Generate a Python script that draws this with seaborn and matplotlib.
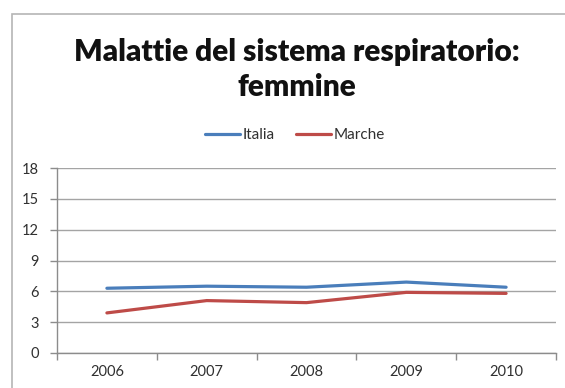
import matplotlib
matplotlib.use("Agg")
import matplotlib.pyplot as plt
from matplotlib.patches import Rectangle
from matplotlib.lines import Line2D
import seaborn as sns
import pandas as pd

# Tasso di mortalità per malattie del sistema respiratorio, femmine
anni = ["2006", "2007", "2008", "2009", "2010"]
italia = [6.3, 6.5, 6.4, 6.9, 6.4]
marche = [3.9, 5.1, 4.9, 5.9, 5.8]
serie = ["Italia", "Marche"]
colori = ["#4A7EBB", "#BE4B48"]
y_ticks = [0, 3, 6, 9, 12, 15, 18]

df = pd.DataFrame({
    "anno": anni * 2,
    "valore": italia + marche,
    "serie": [serie[0]] * len(anni) + [serie[1]] * len(anni),
})

sns.set_theme(style="white")
plt.rcParams["font.family"] = ["Lato", "DejaVu Sans"]

fig = plt.figure(figsize=(5.65, 3.88), dpi=100)
fig.patch.set_facecolor("white")

# chart frame
fig.patches.append(Rectangle((12 / 565, -0.05), 1.0, 1 - 14 / 388 + 0.05,
                             transform=fig.transFigure, fill=False,
                             edgecolor="#B5B5B5", linewidth=1.2))

ax = fig.add_axes([57 / 565, 1 - 353 / 388, (556 - 57) / 565, (353 - 168) / 388])
sns.lineplot(data=df, x="anno", y="valore", hue="serie", palette=colori,
             linewidth=2.3, ax=ax, legend=False, sort=False)

ax.set_ylim(0, 18)
ax.set_yticks(y_ticks)
ax.set_yticklabels([str(t) for t in y_ticks])
ax.set_xlim(-0.5, len(anni) - 0.5)
ax.set_xticks([i - 0.5 for i in range(len(anni) + 1)])
ax.set_xticklabels([""] * (len(anni) + 1))
ax.set_xticks(range(len(anni)), minor=True)
ax.set_xticklabels(anni, minor=True)
ax.tick_params(axis="x", which="major", length=5, width=1, color="#8C8C8C",
               direction="out", bottom=True)
ax.tick_params(axis="x", which="minor", length=0, pad=9, labelsize=10.5,
               labelcolor="#303030", bottom=True)
ax.tick_params(axis="y", length=5, width=1, color="#8C8C8C", direction="out",
               left=True, pad=8, labelsize=10.5, labelcolor="#303030")
ax.grid(axis="y", color="#A4A4A4", linewidth=1)
ax.set_axisbelow(True)
for s in ["top", "right"]:
    ax.spines[s].set_visible(False)
for s in ["left", "bottom"]:
    ax.spines[s].set_color("#8C8C8C")
    ax.spines[s].set_linewidth(1)
ax.set_xlabel("")
ax.set_ylabel("")

# title
fig.text(297 / 565, 1 - 52 / 388, "Malattie del sistema respiratorio:",
         ha="center", va="center", fontsize=21.5, fontweight="heavy", color="#111111")
fig.text(297 / 565, 1 - 87 / 388, "femmine",
         ha="center", va="center", fontsize=21.5, fontweight="heavy", color="#111111")

# legend
handles = [Line2D([0], [0], color=c, linewidth=2.3) for c in colori]
fig.legend(handles, serie, loc="center", bbox_to_anchor=(295 / 565, 1 - 135 / 388),
           ncol=2, frameon=False, fontsize=11, handlelength=2.3, handletextpad=0.15,
           columnspacing=1.4, labelcolor="#303030")

fig.savefig("out.png", dpi=100, facecolor="white")
